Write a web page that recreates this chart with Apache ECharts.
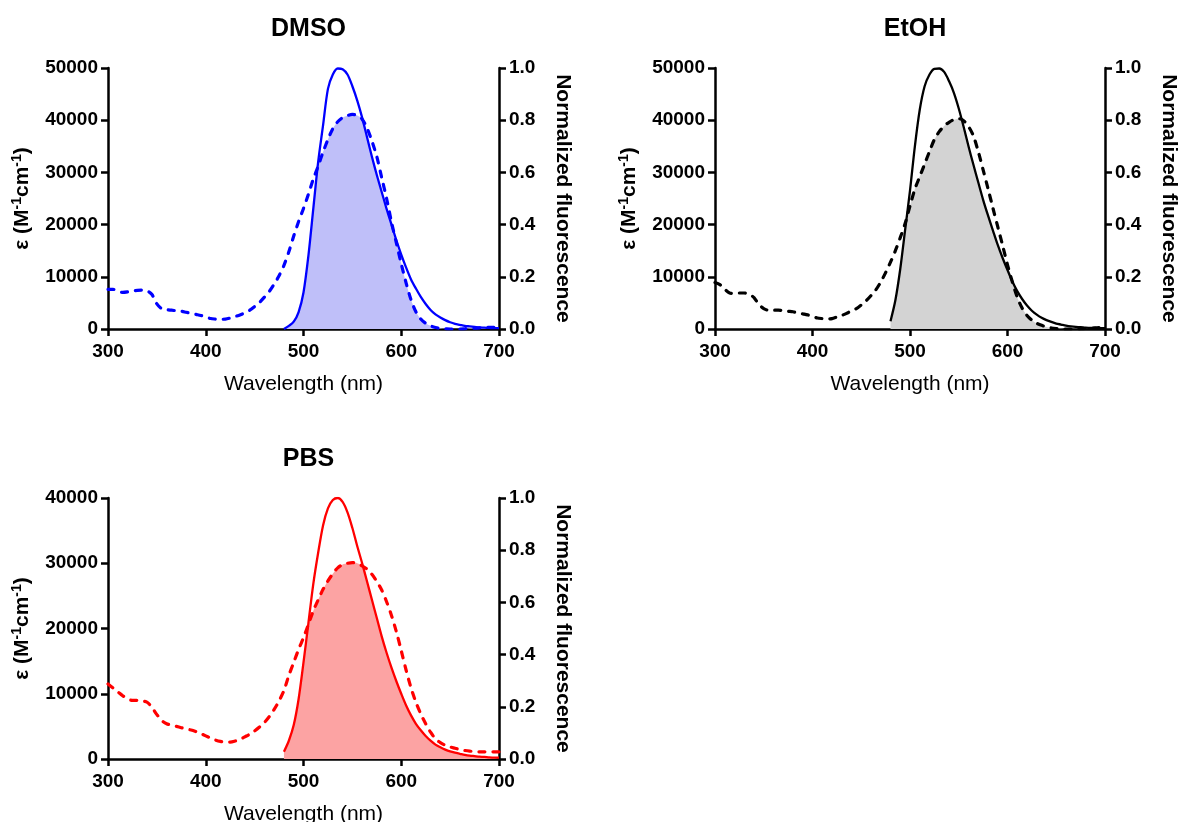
<!DOCTYPE html>
<html>
<head>
<meta charset="utf-8">
<script src="https://cdn.jsdelivr.net/npm/echarts@6/dist/echarts.min.js"></script>
<style>
html,body{margin:0;padding:0;background:#fff;}
#chart{width:1180px;height:822px;}
</style>
</head>
<body>
<div id="chart"></div>
<script>
// ---------- DATA ----------
const TITLES = ['DMSO', 'EtOH', 'PBS'];
const X_LABEL = 'Wavelength (nm)';
const Y_RIGHT_LABEL = 'Normalized fluorescence';
const X_TICKS = [300, 400, 500, 600, 700];
const Y_MAX = [50000, 50000, 40000];

// absorption wavelengths (nm)
const WL_ABS = [300,305,310,315,320,325,330,335,340,345,350,355,360,365,370,375,380,385,390,395,
  400,405,410,415,420,425,430,435,440,445,450,455,460,465,470,475,480,485,490,495,
  500,505,510,515,520,525,530,535,540,545,550,555,560,565,570,575,580,585,590,595,
  600,605,610,615,620,625,630,635,640,645,650,655,660,665,670,675,680,685,690,695,700];
// fluorescence wavelengths (nm)
const WL_FL = [480,485,490,495,500,505,510,515,520,525,530,535,540,545,550,555,560,565,570,575,
  580,585,590,595,600,605,610,615,620,625,630,635,640,645,650,655,660,665,670,675,
  680,685,690,695,700];

// epsilon (M-1 cm-1)
const DMSO_ABS = [7600,7600,7300,7000,7100,7300,7400,7450,7300,6600,4800,3900,3700,3600,3500,3400,3200,3000,2800,2600,
  2300,2000,1900,1850,1900,2100,2400,2700,3100,3600,4300,5100,6100,7200,8600,10200,12200,14800,17800,20600,
  23100,25800,28700,31200,33900,36300,38400,39700,40500,40900,41100,40900,40200,38500,36000,33000,29000,25000,20500,16500,
  12500,8800,5600,3300,1900,1100,600,300,100,50,0,0,0,50,100,150,200,250,300,300,300];
const DMSO_FL = [0,0.012,0.028,0.065,0.14,0.28,0.46,0.64,0.78,0.92,0.975,0.998,0.995,0.975,0.93,0.875,0.81,0.735,0.66,0.59,
  0.525,0.46,0.40,0.34,0.285,0.235,0.19,0.155,0.123,0.096,0.073,0.056,0.044,0.034,0.026,0.020,0.016,0.012,0.010,0.008,
  0.006,0.005,0.004,0.003,0.003];

const ETOH_ABS = [8900,8500,7600,6900,6800,6900,6900,6700,6000,4700,3900,3600,3600,3600,3500,3400,3300,3100,2900,2700,
  2400,2100,2000,1950,2000,2300,2600,3000,3500,3900,4600,5400,6400,7500,9000,10800,12800,15000,17500,20200,
  23600,26800,29200,31600,34000,36300,37800,38900,39600,40100,40300,39900,38800,37000,34000,30500,26900,23200,19600,16000,
  12300,9000,6100,4000,2600,1700,1100,700,400,200,100,50,0,0,0,50,100,150,200,250,250];
const ETOH_FL = [0.03,0.11,0.23,0.38,0.53,0.70,0.84,0.93,0.975,0.997,0.998,0.985,0.95,0.905,0.845,0.775,0.70,0.63,0.562,0.495,
  0.435,0.378,0.322,0.272,0.226,0.182,0.145,0.115,0.09,0.07,0.055,0.043,0.034,0.027,0.021,0.017,0.013,0.010,0.008,0.007,
  0.005,0.004,0.004,0.003,0.003];

const PBS_ABS = [11500,10900,10300,9700,9200,9000,9000,8900,8700,7900,6800,5900,5400,5200,5000,4800,4600,4450,4200,3900,
  3550,3200,2900,2700,2600,2600,2750,3000,3400,3800,4300,4900,5600,6500,7600,8900,10500,12800,14800,16800,
  18600,20600,22700,24400,26000,27300,28400,29300,29800,30000,30100,30000,29600,29100,28300,27200,25900,24100,22000,19500,
  16600,13600,10900,8700,6900,5400,4100,3100,2500,2100,1850,1650,1450,1300,1200,1150,1100,1100,1100,1100,1100];
const PBS_FL = [0.028,0.07,0.13,0.23,0.37,0.52,0.67,0.79,0.895,0.96,0.992,1.0,0.985,0.945,0.885,0.815,0.75,0.68,0.61,0.54,
  0.47,0.407,0.35,0.298,0.25,0.205,0.167,0.135,0.11,0.088,0.07,0.055,0.045,0.036,0.029,0.024,0.020,0.016,0.013,0.011,
  0.009,0.008,0.006,0.005,0.005];

const ABS = [DMSO_ABS, ETOH_ABS, PBS_ABS];
const FL = [DMSO_FL, ETOH_FL, PBS_FL];

// ---------- STYLE / LAYOUT ----------
const FONT = '"Liberation Sans", Arial, Helvetica, sans-serif';
const LINE_COLORS = ['#0000ff', '#000000', '#ff0000'];
const FILL_COLORS = ['#bfbff9', '#d3d3d3', '#fca3a3'];
const GRIDS = [
  {left: 108, top: 68, width: 391, height: 261},
  {left: 715, top: 68, width: 390, height: 261},
  {left: 108, top: 498, width: 391, height: 261}
];
const SMOOTH = 0.3;

const axisLineStyle = {color: '#000', width: 2.5};
const tickLabel = {color: '#000', fontSize: 19, fontWeight: 'bold', fontFamily: FONT};

const option = {
  backgroundColor: '#fff',
  animation: false,
  title: [], grid: [], xAxis: [], yAxis: [], series: []
};

TITLES.forEach((t, i) => {
  const g = GRIDS[i];
  option.title.push({
    text: t, left: g.left + g.width / 2, top: g.top - 56, textAlign: 'center',
    textStyle: {fontSize: 25, fontWeight: 'bold', color: '#000', fontFamily: FONT}
  });
  option.grid.push(Object.assign({containLabel: false, outerBoundsMode: 'none'}, g));
  option.xAxis.push({
    type: 'value', gridIndex: i, min: X_TICKS[0], max: X_TICKS[X_TICKS.length - 1], interval: 100,
    name: X_LABEL, nameLocation: 'middle', nameGap: 45, nameMoveOverlap: false,
    nameTextStyle: {fontSize: 21, color: '#000', fontFamily: FONT},
    axisLine: {show: true, onZero: false, lineStyle: axisLineStyle},
    axisTick: {show: true, length: 7, lineStyle: axisLineStyle},
    axisLabel: Object.assign({margin: 13}, tickLabel),
    splitLine: {show: false}
  });
  option.yAxis.push({
    type: 'value', gridIndex: i, position: 'left', min: 0, max: Y_MAX[i], interval: 10000,
    name: '{b|ε (M}{s|-1}{b|cm}{s|-1}{b|)}', nameLocation: 'middle', nameGap: 74, nameRotate: 90, nameMoveOverlap: false,
    nameTextStyle: {
      color: '#000', fontFamily: FONT, fontWeight: 'bold', fontSize: 21,
      rich: {
        b: {fontSize: 21, fontWeight: 'bold', fontFamily: FONT, color: '#000', lineHeight: 24},
        s: {fontSize: 14, fontWeight: 'bold', fontFamily: FONT, color: '#000', lineHeight: 15, verticalAlign: 'top'}
      }
    },
    axisLine: {show: true, onZero: false, lineStyle: axisLineStyle},
    axisTick: {show: true, length: 7, lineStyle: axisLineStyle},
    axisLabel: Object.assign({margin: 10, formatter: v => String(v)}, tickLabel),
    splitLine: {show: false}
  });
  option.yAxis.push({
    type: 'value', gridIndex: i, position: 'right', min: 0, max: 1, interval: 0.2,
    name: Y_RIGHT_LABEL, nameLocation: 'middle', nameGap: 53, nameRotate: -90, nameMoveOverlap: false,
    nameTextStyle: {fontSize: 21, fontWeight: 'bold', color: '#000', fontFamily: FONT},
    axisLine: {show: true, onZero: false, lineStyle: axisLineStyle},
    axisTick: {show: true, length: 7, lineStyle: axisLineStyle},
    axisLabel: Object.assign({margin: 10, formatter: v => v.toFixed(1)}, tickLabel),
    splitLine: {show: false}
  });

  const abs = ABS[i], fl = FL[i], ymax = Y_MAX[i];
  // overlap area: min of the two curves (in left-axis units)
  const overlap = WL_FL.map((w, j) => [w, Math.min(abs[WL_ABS.indexOf(w)], fl[j] * ymax)]);
  option.series.push({
    type: 'line', xAxisIndex: i, yAxisIndex: 2 * i, data: overlap, showSymbol: false, z: 1, smooth: SMOOTH,
    lineStyle: {width: 0, opacity: 0}, areaStyle: {color: FILL_COLORS[i], opacity: 1}, silent: true
  });
  option.series.push({
    type: 'line', xAxisIndex: i, yAxisIndex: 2 * i, data: WL_ABS.map((w, j) => [w, abs[j]]),
    showSymbol: false, z: 3, silent: true, smooth: SMOOTH,
    lineStyle: {color: LINE_COLORS[i], width: 3.2, type: [6, 8], cap: 'round', join: 'round'}
  });
  option.series.push({
    type: 'line', xAxisIndex: i, yAxisIndex: 2 * i + 1, data: WL_FL.map((w, j) => [w, fl[j]]),
    showSymbol: false, z: 3, silent: true, smooth: SMOOTH,
    lineStyle: {color: LINE_COLORS[i], width: 2.3, join: 'round'}
  });
});

const chart = echarts.init(document.getElementById('chart'), null, {renderer: 'canvas'});
chart.setOption(option);
</script>
</body>
</html>
